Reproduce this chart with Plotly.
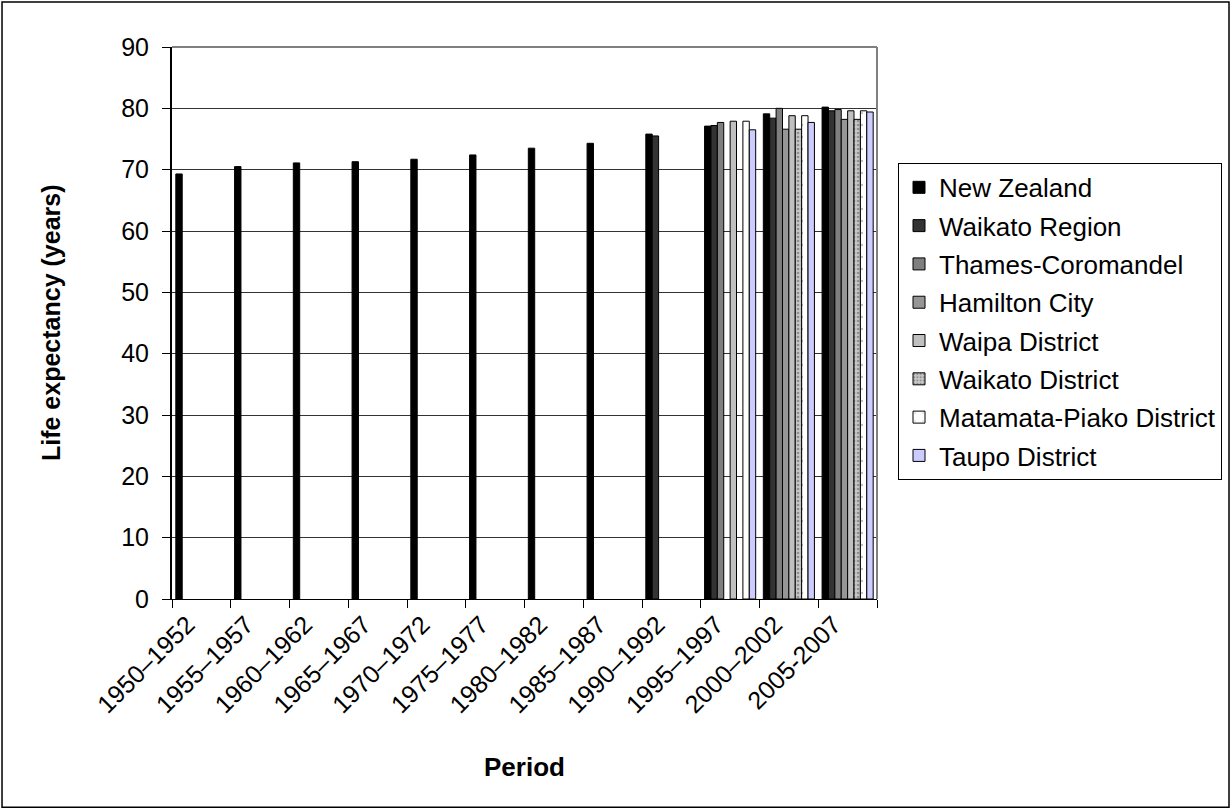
import plotly.graph_objects as go

periods = ["1950–1952", "1955–1957", "1960–1962", "1965–1967", "1970–1972", "1975–1977",
           "1980–1982", "1985–1987", "1990–1992", "1995–1997", "2000–2002", "2005-2007"]

N = None
new_zealand = [69.3, 70.5, 71.1, 71.3, 71.7, 72.4, 73.5, 74.3, 75.8, 77.1, 79.1, 80.2]
waikato_region = [N, N, N, N, N, N, N, N, 75.5, 77.2, 78.4, 79.6]
thames_coromandel = [N, N, N, N, N, N, N, N, N, 77.7, 80.0, 79.8]
hamilton_city = [N, N, N, N, N, N, N, N, N, N, 76.6, 78.2]
waipa_district = [N, N, N, N, N, N, N, N, N, 77.9, 78.8, 79.6]
waikato_district = [N, N, N, N, N, N, N, N, N, N, 76.6, 78.2]
matamata_piako = [N, N, N, N, N, N, N, N, N, 77.9, 78.8, 79.6]
taupo_district = [N, N, N, N, N, N, N, N, N, 76.5, 77.7, 79.4]

series = [
    ("New Zealand", new_zealand, "#000000", None),
    ("Waikato Region", waikato_region, "#333333", None),
    ("Thames-Coromandel", thames_coromandel, "#7f7f7f", None),
    ("Hamilton City", hamilton_city, "#969696", None),
    ("Waipa District", waipa_district, "#c0c0c0", None),
    ("Waikato District", waikato_district, "#c8c8c8",
     dict(shape=".", bgcolor="#c8c8c8", fgcolor="#555555", size=4, solidity=0.35)),
    ("Matamata-Piako District", matamata_piako, "#ffffff",
     dict(shape=".", bgcolor="#ffffff", fgcolor="#888888", size=12, solidity=0.03)),
    ("Taupo District", taupo_district, "#ccccff", None),
]

FONT = "Arial, Liberation Sans, sans-serif"

fig = go.Figure()
for i, (name, vals, color, pattern) in enumerate(series):
    marker = dict(color=color, line=dict(color="#000000", width=1))
    if pattern:
        marker["pattern"] = pattern
    fig.add_trace(go.Bar(name=name, x=periods, y=vals, marker=marker,
                         legendgroup=f"g{i}"))

fig.update_layout(
    width=1232, height=811,
    margin=dict(l=172, r=355, t=47, b=212, autoexpand=False),
    paper_bgcolor="white", plot_bgcolor="white",
    barmode="group", bargap=0.13, bargroupgap=0,
    font=dict(family=FONT, color="black", size=25),
    showlegend=True,
    legend=dict(x=1.0298, y=0.79, xanchor="left", yanchor="top",
                bordercolor="black", borderwidth=1, bgcolor="white",
                font=dict(family=FONT, size=26, color="black"),
                tracegroupgap=1.5),
    xaxis=dict(type="category", tickson="boundaries", ticks="outside", ticklen=8,
               tickcolor="black", tickwidth=1, showline=True, linecolor="black",
               linewidth=1, showgrid=False, tickangle=-45, automargin=False,
               tickfont=dict(family=FONT, size=25, color="black"),
               ticklabelshift=-14),
    yaxis=dict(range=[0, 90], dtick=10, tick0=0, ticks="outside", ticklen=8,
               tickcolor="black", showline=True, linecolor="black", linewidth=2,
               showgrid=True, gridcolor="#333333", gridwidth=1, zeroline=False,
               automargin=False,
               tickfont=dict(family=FONT, size=25, color="black"),
               ticklabelstandoff=8),
    annotations=[
        dict(text="<b>Life expectancy (years)</b>", xref="paper", yref="paper",
             x=-0.1716, y=0.5, xanchor="center", yanchor="middle",
             textangle=-90, showarrow=False,
             font=dict(family=FONT, size=25, color="black")),
        dict(text="<b>Period</b>", xref="paper", yref="paper",
             x=0.5, y=-0.305, xanchor="center", yanchor="middle", showarrow=False,
             font=dict(family=FONT, size=26, color="black")),
    ],
    shapes=[
        dict(type="line", xref="paper", yref="paper", x0=0, x1=1, y0=1, y1=1,
             line=dict(color="#808080", width=2)),
        dict(type="line", xref="paper", yref="paper", x0=1, x1=1, y0=0, y1=1,
             line=dict(color="#808080", width=2)),
        dict(type="rect", xref="paper", yref="paper", x0=-0.2411, x1=1.4993,
             y0=-0.3774, y1=1.0814, line=dict(color="black", width=1.5),
             fillcolor="rgba(0,0,0,0)", layer="below"),
    ],
)

fig.write_html("out.html",
               config={"responsive": False, "displayModeBar": False},
               post_script="document.body.style.margin='0';document.body.style.overflow='hidden';")
